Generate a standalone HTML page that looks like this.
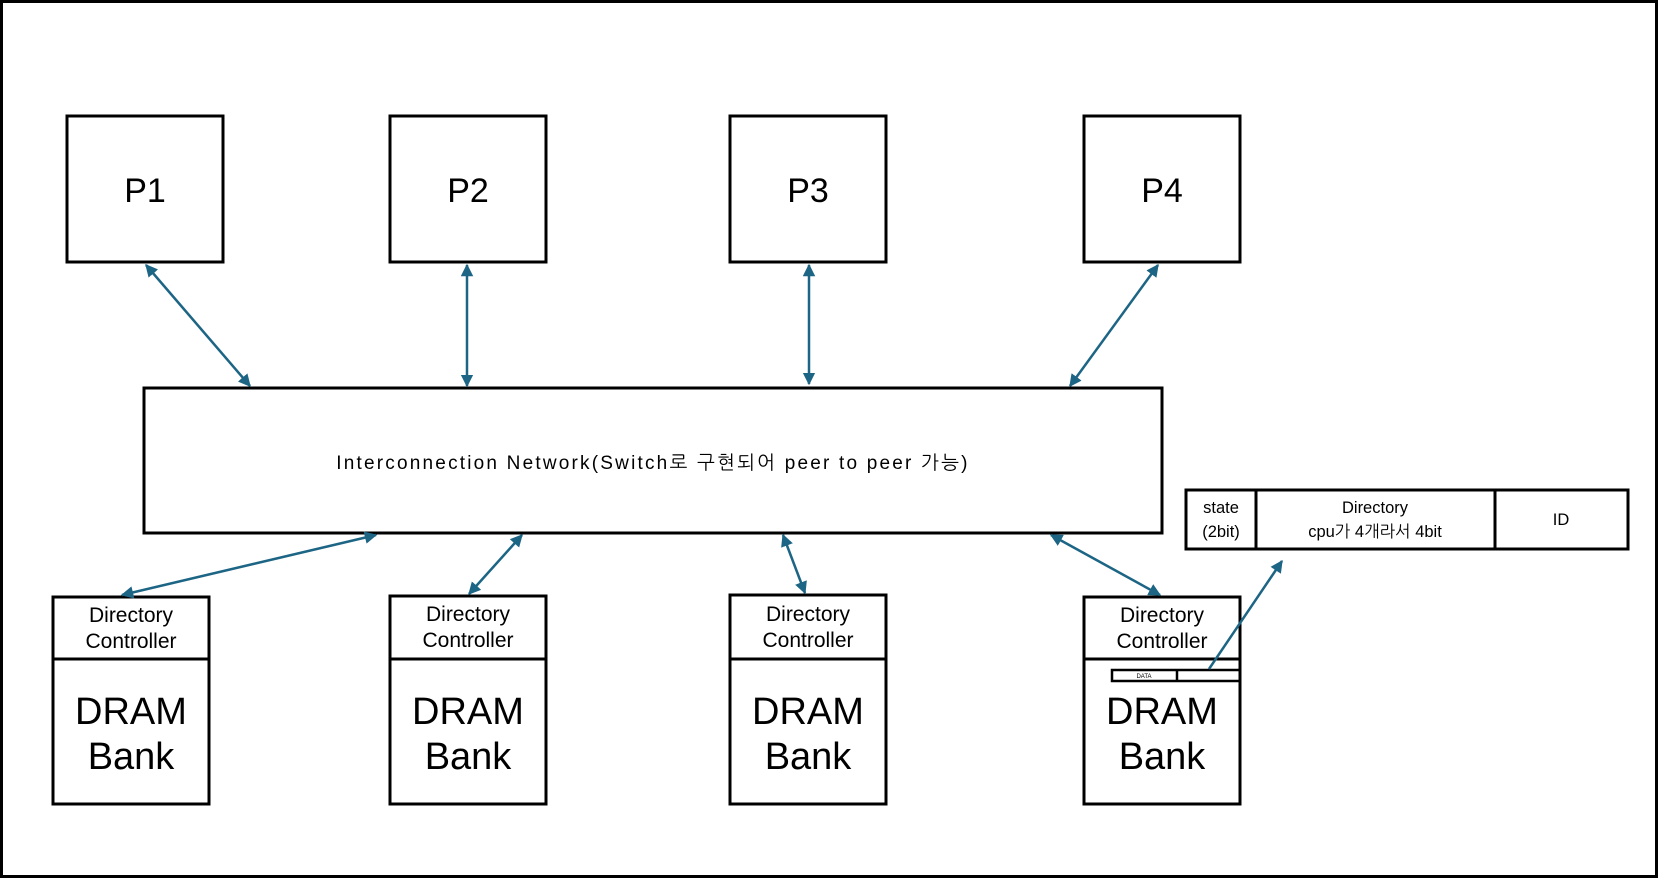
<!DOCTYPE html>
<html><head><meta charset="utf-8"><style>
html,body{margin:0;padding:0;background:#fff}
svg{display:block}
text{font-family:"Liberation Sans","NanumGothic","Noto Sans CJK KR",sans-serif;fill:#000}
</style></head><body>
<svg width="1661" height="880" viewBox="0 0 1661 880" xmlns="http://www.w3.org/2000/svg">
<defs>
<marker id="a" viewBox="0 0 10 10" refX="9" refY="5" markerWidth="5" markerHeight="5" orient="auto-start-reverse">
<path d="M0,0 L10,5 L0,10 z" fill="#1d6585"/></marker>
</defs>
<rect x="1.5" y="1.5" width="1655" height="875" fill="none" stroke="#000" stroke-width="3"/>
<g fill="none" stroke="#000" stroke-width="3">
<rect x="67" y="116" width="156" height="146"/>
<rect x="390" y="116" width="156" height="146"/>
<rect x="730" y="116" width="156" height="146"/>
<rect x="1084" y="116" width="156" height="146"/>
<rect x="144" y="388" width="1018" height="145"/>
<rect x="53" y="597" width="156" height="207"/><line x1="53" y1="659" x2="209" y2="659"/>
<rect x="390" y="596" width="156" height="208"/><line x1="390" y1="659" x2="546" y2="659"/>
<rect x="730" y="595" width="156" height="209"/><line x1="730" y1="659" x2="886" y2="659"/>
<rect x="1084" y="597" width="156" height="207"/><line x1="1084" y1="659" x2="1240" y2="659"/>
<rect x="1112" y="670" width="128" height="11" stroke-width="2.5"/><line x1="1177" y1="670" x2="1177" y2="681" stroke-width="2.5"/>
<rect x="1186" y="490" width="442" height="59"/>
<line x1="1256" y1="490" x2="1256" y2="549"/><line x1="1495" y1="490" x2="1495" y2="549"/>
</g>
<g font-size="34" text-anchor="middle">
<text x="145" y="202">P1</text><text x="468" y="202">P2</text><text x="808" y="202">P3</text><text x="1162" y="202">P4</text>
</g>
<text x="653" y="469" font-size="19" letter-spacing="2.2" text-anchor="middle">Interconnection Network(Switch로 구현되어 peer to peer 가능)</text>
<g font-size="21" text-anchor="middle">
<text x="131" y="622">Directory</text><text x="131" y="648">Controller</text>
<text x="468" y="621">Directory</text><text x="468" y="647">Controller</text>
<text x="808" y="621">Directory</text><text x="808" y="647">Controller</text>
<text x="1162" y="622">Directory</text><text x="1162" y="648">Controller</text>
</g>
<g font-size="38" text-anchor="middle">
<text x="131" y="724">DRAM</text><text x="131" y="769">Bank</text>
<text x="468" y="724">DRAM</text><text x="468" y="769">Bank</text>
<text x="808" y="724">DRAM</text><text x="808" y="769">Bank</text>
<text x="1162" y="724">DRAM</text><text x="1162" y="769">Bank</text>
</g>
<text x="1144" y="678" font-size="6" text-anchor="middle" fill="#444">DATA</text>
<g font-size="16.5" text-anchor="middle">
<text x="1221" y="513">state</text><text x="1221" y="537">(2bit)</text>
<text x="1375" y="513">Directory</text><text x="1375" y="537">cpu가 4개라서 4bit</text>
<text x="1561" y="525">ID</text>
</g>
<g stroke="#1d6585" stroke-width="2.5" fill="none">
<line x1="146" y1="265" x2="250" y2="386" marker-start="url(#a)" marker-end="url(#a)"/>
<line x1="467" y1="265" x2="467" y2="386" marker-start="url(#a)" marker-end="url(#a)"/>
<line x1="809" y1="265" x2="809" y2="384" marker-start="url(#a)" marker-end="url(#a)"/>
<line x1="1158" y1="265" x2="1070" y2="386" marker-start="url(#a)" marker-end="url(#a)"/>
<line x1="376" y1="535" x2="122" y2="595" marker-start="url(#a)" marker-end="url(#a)"/>
<line x1="522" y1="535" x2="469" y2="594" marker-start="url(#a)" marker-end="url(#a)"/>
<line x1="783" y1="535" x2="805" y2="593" marker-start="url(#a)" marker-end="url(#a)"/>
<line x1="1051" y1="535" x2="1160" y2="595" marker-start="url(#a)" marker-end="url(#a)"/>
<line x1="1209" y1="669" x2="1282" y2="561" marker-end="url(#a)"/>
</g>
</svg>
</body></html>
